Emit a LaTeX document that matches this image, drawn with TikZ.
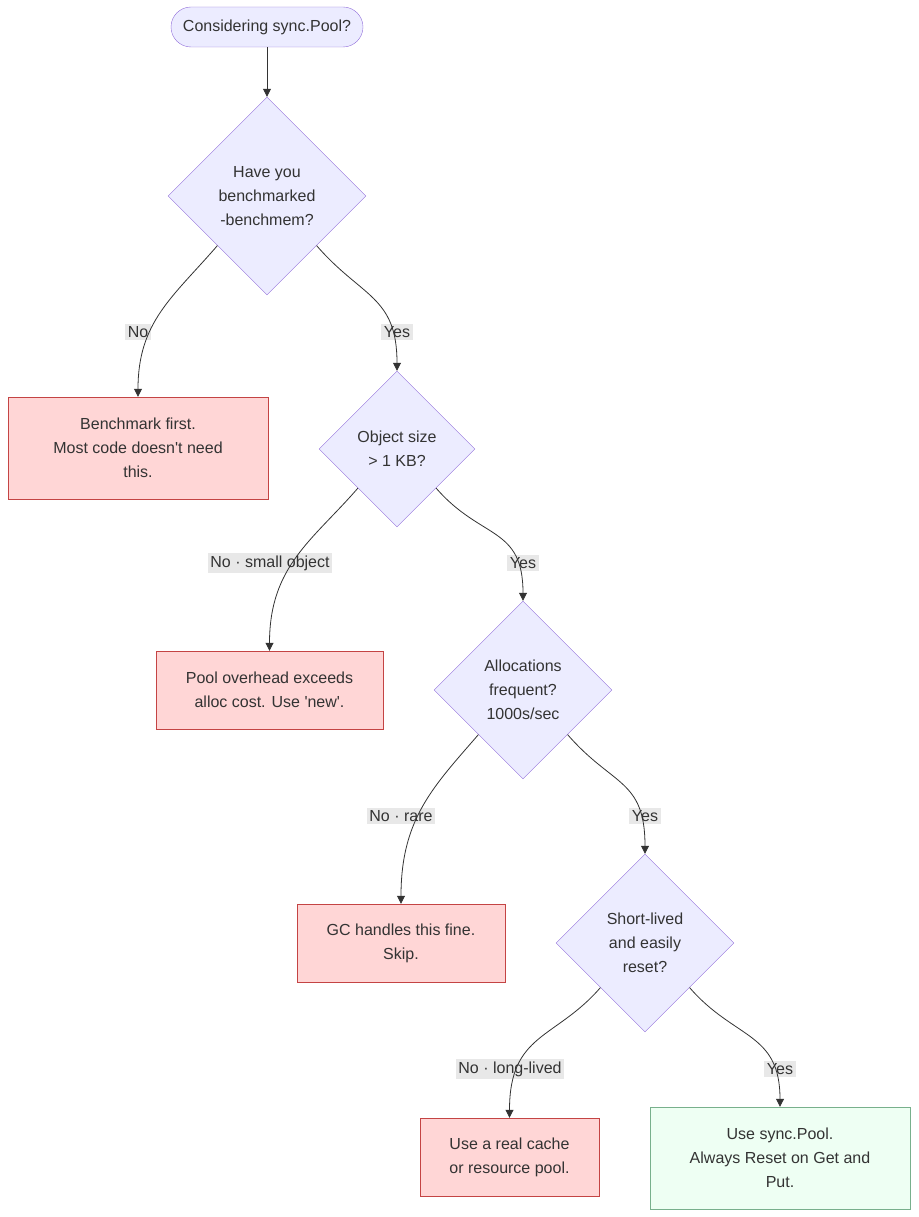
\documentclass[tikz,border=0pt]{standalone}
\usepackage{fontspec}
\setmainfont{Liberation Sans}
\usepackage{tikz}
\usetikzlibrary{shapes.geometric, arrows.meta}
\definecolor{qfill}{RGB}{236, 236, 255}
\definecolor{qline}{RGB}{147, 112, 219}
\definecolor{nofill}{RGB}{255, 214, 214}
\definecolor{noline}{RGB}{196, 68, 68}
\definecolor{okfill}{RGB}{238, 255, 243}
\definecolor{okline}{RGB}{120, 176, 140}
\definecolor{labelbg}{RGB}{232, 232, 232}
\definecolor{ink}{RGB}{51, 51, 51}

\begin{document}
\begin{tikzpicture}[x=1pt, y=-1pt,
    every node/.style={font=\fontsize{16}{24}\selectfont, text=ink, align=center},
    startbox/.style={draw=qline, fill=qfill, rounded corners=20pt, minimum width=192pt, minimum height=40pt},
    question/.style={diamond, draw=qline, fill=qfill, inner sep=0pt, minimum width=#1, minimum height=#1},
    nobox/.style={draw=noline, fill=nofill, minimum height=78pt},
    okbox/.style={draw=okline, fill=okfill, minimum height=102pt},
    elabel/.style={fill=labelbg, inner sep=2.5pt},
    flow/.style={draw=ink, line width=0.8pt, -{Triangle[length=8pt, width=8pt]}}]
        \useasboundingbox (0,0) rectangle (918,1217);
        % questions down the right-hand diagonal
        \node[startbox] (start) at (267,27) {Considering sync.Pool?};
        \node[question=198pt] (bench) at (267,196) {Have you\\benchmarked\\-benchmem?};
        \node[question=156pt] (size) at (397,449) {Object size\\> 1 KB?};
        \node[question=178pt] (freq) at (523,690) {Allocations\\frequent?\\1000s/sec};
        \node[question=178pt] (short) at (645,943) {Short-lived\\and easily\\reset?};
        % outcomes
        \node[nobox, minimum width=260pt, minimum height=102pt] (first) at (138,448) {Benchmark first.\\Most code doesn\textquotesingle t need\\this.};
        \node[nobox, minimum width=227pt] (overhead) at (269.5,690) {Pool overhead exceeds\\alloc cost. Use \textquotesingle new\textquotesingle .};
        \node[nobox, minimum width=208pt] (gc) at (401,943) {GC handles this fine.\\Skip.};
        \node[nobox, minimum width=179pt] (cache) at (509.5,1157) {Use a real cache\\or resource pool.};
        \node[okbox, minimum width=260pt] (pool) at (780,1158) {Use sync.Pool.\\Always Reset on Get and\\Put.};
        % edge labels
        \node[elabel] (lno1) at (138,332) {No};
        \node[elabel] (lyes1) at (397,332) {Yes};
        \node[elabel] (lno2) at (270,563) {No · small object};
        \node[elabel] (lyes2) at (523,563) {Yes};
        \node[elabel] (lno3) at (401,816) {No · rare};
        \node[elabel] (lyes3) at (645,816) {Yes};
        \node[elabel] (lno4) at (510,1069) {No · long-lived};
        \node[elabel] (lyes4) at (780,1069) {Yes};
        % connectors
        \draw[flow] (start) -- (bench);
        \draw[flow] (bench.south west) .. controls +(-45,52) and +(0,-75) .. (first.north);
        \draw[flow] (bench.south east) .. controls +(45,52) and +(0,-75) .. (size.north);
        \draw[flow] (size.south west) .. controls +(-45,52) and +(0,-85) .. (overhead.north);
        \draw[flow] (size.south east) .. controls +(45,52) and +(0,-75) .. (freq.north);
        \draw[flow] (freq.south west) .. controls +(-45,52) and +(0,-85) .. (gc.north);
        \draw[flow] (freq.south east) .. controls +(45,52) and +(0,-75) .. (short.north);
        \draw[flow] (short.south west) .. controls +(-45,52) and +(0,-85) .. (cache.north);
        \draw[flow] (short.south east) .. controls +(45,52) and +(0,-75) .. (pool.north);
\end{tikzpicture}
\end{document}
